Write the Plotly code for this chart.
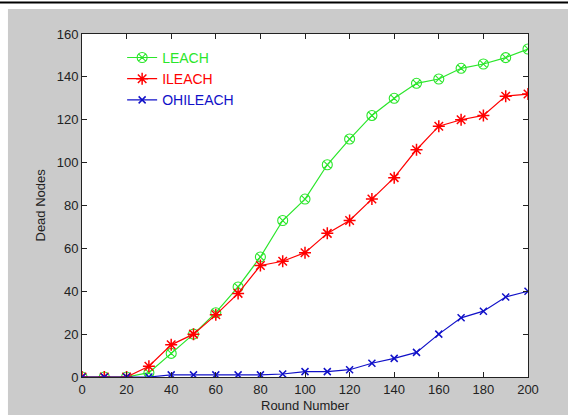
import plotly.graph_objects as go

rounds = [0, 10, 20, 30, 40, 50, 60, 70, 80, 90, 100, 110, 120, 130, 140, 150, 160, 170, 180, 190, 200]
leach = [0, 0, 0, 2, 11, 20, 30, 42, 56, 73, 83, 99, 111, 122, 130, 137, 139, 144, 146, 149, 153]
ileach = [0, 0, 0, 5, 15, 20, 29, 39, 52, 54, 58, 67, 73, 83, 93, 106, 117, 120, 122, 131, 132]
ohileach = [0, 0, 0, 0, 1, 1, 1, 1, 1, 1.4, 2.5, 2.5, 3.4, 6.4, 8.7, 11.5, 20, 27.6, 30.7, 37.3, 40]

x_ticks = [0, 20, 40, 60, 80, 100, 120, 140, 160, 180, 200]
y_ticks = [0, 20, 40, 60, 80, 100, 120, 140, 160]

GREEN = "#2ae62a"
RED = "#ff0000"
BLUE = "#1010c8"

fig = go.Figure()
fig.add_trace(go.Scatter(
    x=rounds, y=leach, mode="lines+markers",
    name=f"<span style='color:{GREEN}'>LEACH</span>",
    line=dict(color=GREEN, width=1.2),
    marker=dict(symbol="circle-x-open", size=10, color=GREEN, line=dict(width=1.1)),
))
fig.add_trace(go.Scatter(
    x=rounds, y=ileach, mode="lines+markers",
    name=f"<span style='color:{RED}'>ILEACH</span>",
    line=dict(color=RED, width=1.2),
    marker=dict(symbol="asterisk-open", size=10, color=RED, line=dict(width=1.5, color=RED)),
))
fig.add_trace(go.Scatter(
    x=rounds, y=ohileach, mode="lines+markers",
    name=f"<span style='color:{BLUE}'>OHILEACH</span>",
    line=dict(color=BLUE, width=1.2),
    marker=dict(symbol="x-thin-open", size=7, color=BLUE, line=dict(width=1.5, color=BLUE)),
))

axis_common = dict(
    showgrid=False, zeroline=False, showline=True, linecolor="#222", linewidth=1,
    mirror="ticks", ticks="inside", ticklen=5, tickcolor="#222",
    tickfont=dict(family="Liberation Sans, Arial, sans-serif", size=13, color="#222"),
)

fig.update_xaxes(range=[0, 200], tickvals=x_ticks, **axis_common)
fig.update_yaxes(range=[0, 160], tickvals=y_ticks, **axis_common)

fig.update_layout(
    width=568, height=415,
    margin=dict(l=82, r=40, t=34, b=38),
    paper_bgcolor="white", plot_bgcolor="white",
    showlegend=True,
    legend=dict(x=0.09, y=0.977, xanchor="left", yanchor="top",
                bgcolor="rgba(0,0,0,0)", borderwidth=0,
                font=dict(family="Liberation Sans, Arial, sans-serif", size=14)),
    shapes=[
        dict(type="rect", xref="paper", yref="paper", x0=-0.166, x1=1.1, y0=-0.12, y1=1.073,
             fillcolor="#cbcbcb", line=dict(width=0), layer="below"),
        dict(type="rect", xref="paper", yref="paper", x0=0, x1=1, y0=0, y1=1,
             fillcolor="white", line=dict(width=0), layer="below"),
        dict(type="line", xref="paper", yref="paper", x0=-0.2, x1=1.1, y0=1.092, y1=1.092,
             line=dict(color="black", width=2)),
    ],
    annotations=[
        dict(text="Round Number", xref="paper", yref="paper", x=0.5, y=(377 - 405) / 343,
             xanchor="center", yanchor="middle", showarrow=False,
             font=dict(family="Liberation Sans, Arial, sans-serif", size=13, color="#222")),
        dict(text="Dead Nodes", xref="paper", yref="paper", x=(40 - 82) / 446, y=0.5,
             xanchor="center", yanchor="middle", showarrow=False, textangle=-90,
             font=dict(family="Liberation Sans, Arial, sans-serif", size=13, color="#222")),
    ],
)

fig.write_html("out.html")
